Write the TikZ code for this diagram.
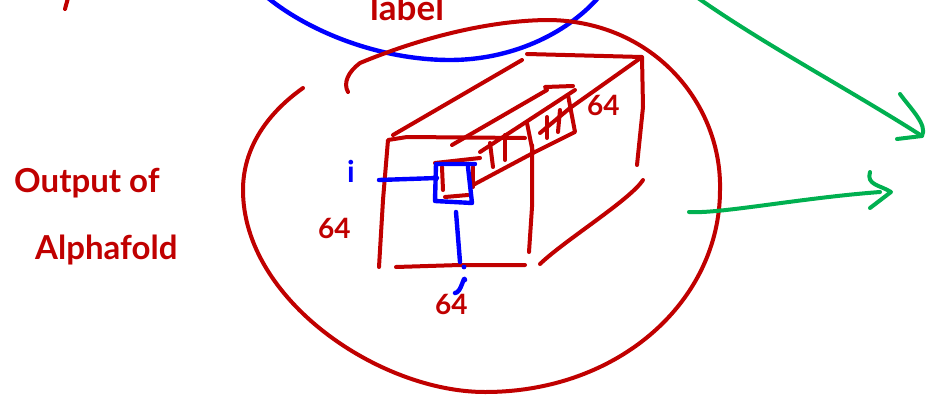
\documentclass[tikz,border=0pt]{standalone}
\usepackage{fontspec}
\setmainfont{Lato}
\usetikzlibrary{positioning}
\definecolor{inkred}{RGB}{192,0,0}
\definecolor{inkblue}{RGB}{0,0,255}
\definecolor{inkgreen}{RGB}{0,176,80}
\tikzset{
  redink/.style={draw=inkred, line width=4pt, line cap=round, line join=round},
  blueink/.style={draw=inkblue, line width=4.4pt, line cap=round, line join=round},
  greenink/.style={draw=inkgreen, line width=4pt, line cap=round, line join=round},
  redlbl/.style={text=inkred, inner sep=0pt, anchor=base west, font=\fontsize{33}{33}\selectfont\bfseries},
  dimlbl/.style={redlbl, font=\fontsize{28}{28}\selectfont\bfseries},
  bluelbl/.style={text=inkblue, inner sep=0pt, anchor=base, font=\fontsize{30}{30}\selectfont\bfseries}
}
\begin{document}
\begin{tikzpicture}[x=1pt, y=-1pt]
\useasboundingbox (0,0) rectangle (932,402);
\clip (0,0) rectangle (932,402);
\draw[blueink] (268,-2) .. controls (310,32) and (380,60) .. (450,60) .. controls (510,60) and (565,35) .. (598,-2);
\draw[redink] (303,88) .. controls (265,115) and (243,150) .. (243,190) .. controls (243,300) and (380,392) .. (485,392) .. controls (620,392) and (720,300) .. (720,190) .. controls (722,105) and (655,22) .. (550,20) .. controls (490,20) and (420,38) .. (360,63) .. controls (348,72) and (343,83) .. (348,92);
\draw[redink] (68,-2) -- (65,9);
\node[redlbl] (output) at (14,192) {Output of};
\node[redlbl] (alphafold) at (35,259) {Alphafold};
\node[redlbl, font=\fontsize{35}{35}\selectfont\bfseries] (labeltext) at (370,20) {label};
\node[dimlbl] (dimleft) at (318,238) {64};
\node[dimlbl] (dimbottom) at (435,314) {64};
\node[dimlbl] (dimdepth) at (587,115) {64};
\node[bluelbl] (rowi) at (351,182) {i};
% front face
\draw[redink] (379,267) -- (383,200) -- (388,140) -- (407,137) -- (525,138);
\draw[redink] (396,267) -- (460,265) -- (525,265);
\draw[redink] (532,145) -- (532,207) -- (529,252);
% top and back edges
\draw[redink] (393,135) -- (522,60);
\draw[redink] (527,54) -- (642,57) -- (643,107) -- (637,165);
\draw[redink] (642,57) -- (570,108) -- (540,133);
\draw[redink] (540,264) .. controls (565,240) and (630,200) .. (643,180);
% beam
\draw[redink] (452,145) -- (547,90) -- (545,87) -- (573,86);
\draw[redink] (480,152) -- (575,90);
\draw[redink] (568,95) -- (575,132) -- (533,153) -- (473,185);
\draw[redink] (490,143) -- (493,167);
\draw[redink] (505,135) -- (505,160);
\draw[redink] (527,123) -- (533,153);
\draw[redink] (547,117) -- (547,138);
\draw[redink] (560,110) -- (558,132);
% small cell
\draw[redink] (435,163) -- (480,158);
\draw[redink] (442,167) -- (443,190);
\draw[redink] (445,197) -- (468,195);
\draw[redink] (473,167) -- (473,187);
\coordinate (cellnw) at (436,164);
\coordinate (cellne) at (475,164);
\coordinate (cellse) at (472,203);
\coordinate (cellsw) at (435,201);
\draw[blueink] (cellne) -- (cellnw) -- (cellsw) -- (cellse) -- (468,167);
\draw[blueink] (379,180) -- (437,178);
\draw[blueink] (456,212) -- (460,262);
\fill[inkblue] (464,267) circle (2.4pt);
\draw[blueink] (465,280) to[out=100, in=0] (455,293);
% arrows
\coordinate (uppertip) at (922,136);
\coordinate (lowertip) at (891,192);
\draw[greenink] (698,-2) .. controls (765,45) and (850,90) .. (uppertip);
\draw[greenink] (900,94) .. controls (910,108) and (928,125) .. (uppertip) -- (897,139);
\draw[greenink] (689,212) .. controls (720,214) and (800,198) .. (880,192);
\draw[greenink] (870,172) .. controls (866,185) and (880,185) .. (lowertip) -- (870,208);
\end{tikzpicture}
\end{document}
